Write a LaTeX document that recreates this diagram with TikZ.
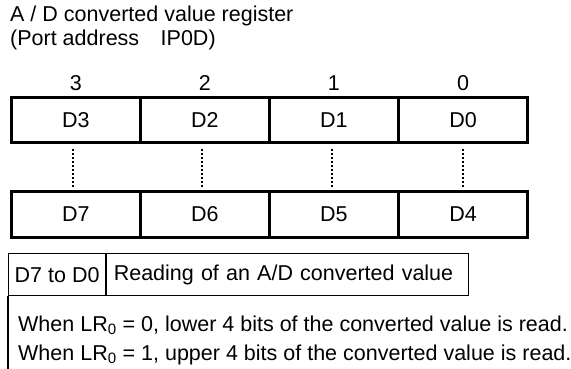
\documentclass[tikz,border=0pt]{standalone}
\usepackage{fontspec}
\setmainfont{Liberation Sans}
\usetikzlibrary{positioning}
\tikzstyle{bitcell}=[rectangle, draw, line width=1.6pt, minimum width=127.5pt, minimum height=44pt, inner sep=0pt]
\tikzstyle{bitnum}=[inner sep=0pt]
\tikzstyle{frame}=[line width=3pt]
\tikzstyle{dotline}=[line width=2pt, dash pattern=on 2pt off 2pt]
\tikzstyle{tablecell}=[rectangle, draw, line width=1.2pt, minimum height=42pt, inner sep=0pt]

\begin{document}
\begin{tikzpicture}[x=1pt, y=-1pt, node distance=0pt, font=\fontsize{21.5}{23.5}\selectfont]
	\useasboundingbox (0,0) rectangle (571,369);
	% Title
	\node[anchor=base west, inner sep=0pt] (title) at (10,22) {A / D converted value register};
	\node[anchor=base west, inner sep=0pt] (port) at (10,45.5) {(Port address\quad IP0D)};

	% Upper register
	\node[bitcell] (d3) at (75.75,120) {D3};
	\node[bitcell, right=of d3] (d2) {D2};
	\node[bitcell, right=of d2] (d1) {D1};
	\node[bitcell, right=of d1] (d0) {D0};
	\node[bitnum, above=6pt of d3] (b3) {3};
	\node[bitnum, above=6pt of d2] (b2) {2};
	\node[bitnum, above=6pt of d1] (b1) {1};
	\node[bitnum, above=6pt of d0] (b0) {0};

	% Lower register
	\node[bitcell] (d7) at (75.75,214.5) {D7};
	\node[bitcell, right=of d7] (d6) {D6};
	\node[bitcell, right=of d6] (d5) {D5};
	\node[bitcell, right=of d5] (d4) {D4};

	% Frames
	\draw[frame] (d3.north west) rectangle (d0.south east);
	\draw[frame] (d7.north west) rectangle (d4.south east);

	% Dotted lines
	\draw[dotline] ([xshift=-3pt, yshift=-6pt]d3.south) -- ([xshift=-3pt, yshift=4pt]d7.north);
	\draw[dotline] ([xshift=-3pt, yshift=-6pt]d2.south) -- ([xshift=-3pt, yshift=4pt]d6.north);
	\draw[dotline] ([xshift=-2pt, yshift=-6pt]d1.south) -- ([xshift=-2pt, yshift=4pt]d5.north);
	\draw[dotline] ([yshift=-6pt]d0.south) -- ([yshift=4pt]d4.north);

	% Description table
	\node[tablecell, anchor=north west, minimum width=97pt] (range) at (8,253) {D7 to D0};
	\node[tablecell, right=of range, inner xsep=7pt, text width=348pt, align=left] (desc) {Reading of an A/D converted value};
	\coordinate (bottom) at (8,369);
	\draw[line width=1.2pt] (range.south west) -- (bottom);
	\node[anchor=base west, inner sep=0pt] (low) at (18,331) {When LR\textsubscript{0} = 0, lower 4 bits of the converted value is read.};
	\node[anchor=base west, inner sep=0pt] (up) at (18,360) {When LR\textsubscript{0} = 1, upper 4 bits of the converted value is read.};
\end{tikzpicture}
\end{document}
